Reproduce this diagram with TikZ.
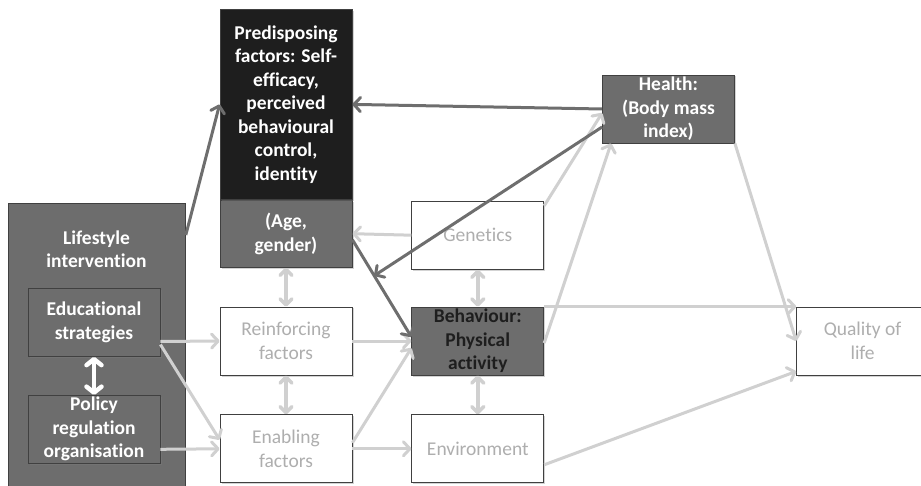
\documentclass[tikz,border=0pt]{standalone}
\usepackage{fontspec}
\setmainfont{Carlito}[Ligatures=NoCommon]
\usetikzlibrary{calc,positioning,shadows,arrows.meta}
\definecolor{boxgray}{HTML}{6D6D6D}
\definecolor{boxblack}{HTML}{1E1E1E}
\definecolor{boxline}{HTML}{404040}
\definecolor{faintgray}{HTML}{AEAEAE}
\definecolor{linkgray}{HTML}{D0D0D0}
\definecolor{pathgray}{HTML}{6E6E6E}
\newcommand{\boxfont}{\fontsize{19.5}{23.5}\selectfont}
\tikzstyle{model boxes}=[
    x=1pt, y=-1pt, node distance=39pt and 59pt,
    >={Straight Barb[length=6.5pt,width=14pt,round]},
    every node/.style={font=\boxfont, align=center},
]
\tikzstyle{factor}=[draw=boxline, line width=0.8pt, fill=white, text=faintgray,
    minimum width=132pt, minimum height=68pt, inner xsep=2pt, inner ysep=0pt,
    drop shadow={shadow xshift=1.5pt, shadow yshift=-1.5pt, opacity=0.35}]
\tikzstyle{key factor}=[factor, fill=boxgray, text=white, font=\boxfont\bfseries]
\tikzstyle{weak link}=[->, line width=3pt, draw=linkgray]
\tikzstyle{strong link}=[->, line width=3pt, draw=pathgray]
\tikzstyle{mutual link}=[<->, line width=3.5pt, draw=linkgray,
    >={Straight Barb[length=6pt,width=12pt,round]}]

\begin{document}
\begin{tikzpicture}[model boxes]
    \useasboundingbox (0,0) rectangle (921,486);

    % intervention block
    \node[draw=boxline, line width=0.8pt, fill=boxgray, anchor=north west,
        minimum width=177pt, minimum height=300pt] (life) at (8,203) {};
    \node[text=white, font=\boxfont\bfseries] (lifetitle) at (96.5,249) {Lifestyle\\intervention};
    \node[key factor] (educ) at (94,322.5) {Educational\\strategies};
    \node[key factor, below=38pt of educ] (policy) {Policy\\regulation\\organisation};

    % determinants
    \node[factor] (reinf) at (286,341) {Reinforcing\\factors};
    \node[factor, below=of reinf] (enab) {Enabling\\factors};
    \node[key factor, above=of reinf, minimum height=67pt] (age) {(Age,\\gender)};
    \node[key factor, fill=boxblack, above=0pt of age, minimum height=190pt] (predisp)
        {Predisposing\\factors: Self-\\efficacy,\\perceived\\behavioural\\control,\\identity};
    \node[key factor, right=of reinf, text=boxblack] (behav) {Behaviour:\\Physical\\activity};
    \node[factor, right=of enab] (env) {Environment};
    \node[factor, above=37pt of behav] (genet) {Genetics};
    \node[key factor] (health) at (668.5,109) {Health:\\(Body mass\\index)};
    \node[factor, right=252pt of behav] (qol) {Quality of\\life};

    \coordinate (meet) at ($([yshift=-6pt]age.east)!.37!([yshift=4pt]behav.west)$);

    \path
        ([yshift=-19pt]educ.east) edge[weak link] (reinf.west)
        ([yshift=-22pt]educ.east) edge[weak link] ([yshift=9pt]enab.west)
        ([yshift=-20pt]policy.east) edge[weak link] (enab.west)
        (reinf.east) edge[weak link] (behav.west)
        ([yshift=6pt]enab.east) edge[weak link] ([yshift=-7pt]behav.west)
        (enab.east) edge[weak link] (env.west)
        (genet.west) edge[weak link] (age.east)
        ([yshift=-5pt]genet.north east) edge[weak link] ([yshift=-4pt]health.west)
        ([yshift=-2pt]behav.east) edge[weak link] ([xshift=9pt]health.south west)
        (behav.north east) edge[weak link] (qol.north west)
        (health.south east) edge[weak link] (qol.west)
        ([yshift=-16pt]env.east) edge[weak link] ([yshift=4pt]qol.south west)
        (age.south) edge[mutual link] (reinf.north)
        (reinf.south) edge[mutual link] (enab.north)
        (genet.south) edge[mutual link] (behav.north)
        (behav.south) edge[mutual link] (env.north)
        (educ.south) edge[mutual link, draw=white, line width=4.5pt,
            >={Straight Barb[length=6pt,width=15pt,round]}] (policy.north)
        ([yshift=-32pt]life.north east) edge[strong link] (predisp.west)
        (health.west) edge[strong link] (predisp.east)
        ([yshift=-18pt]health.west) edge[strong link] (meet)
        ([yshift=-6pt]age.east) edge[strong link] ([yshift=4pt]behav.west)
    ;
\end{tikzpicture}
\end{document}
